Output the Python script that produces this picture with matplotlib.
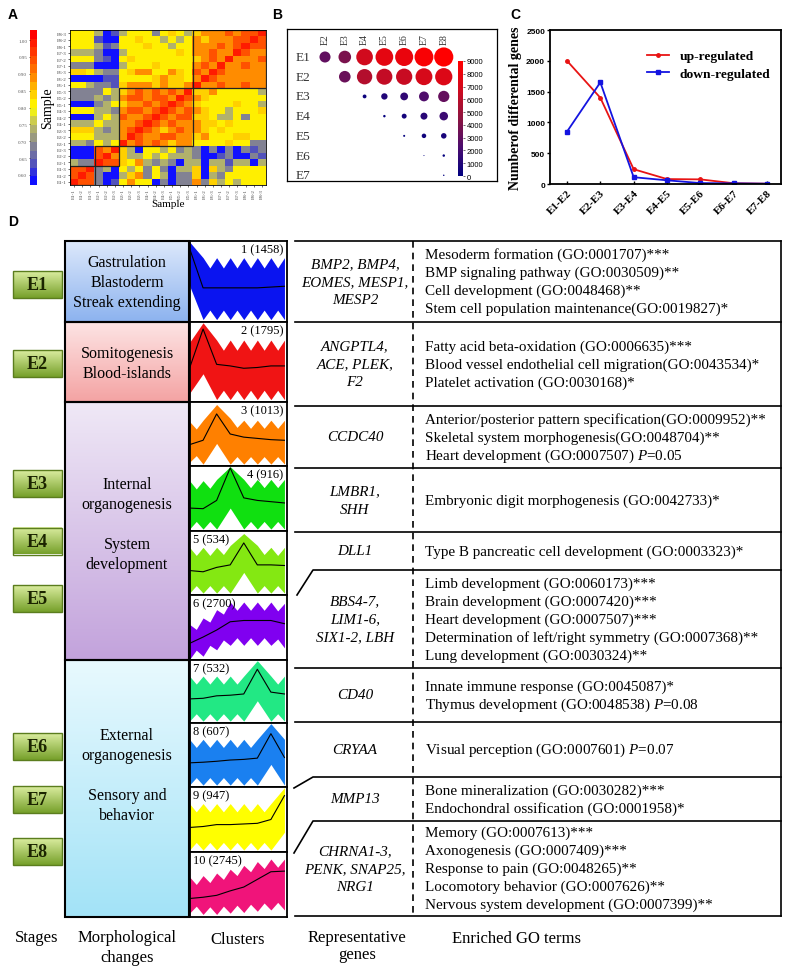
import numpy as np
import matplotlib
matplotlib.use("Agg")
import matplotlib.pyplot as plt
from matplotlib.colors import LinearSegmentedColormap, to_rgb
from matplotlib.patches import Rectangle

plt.rcParams['font.family'] = ['Liberation Serif', 'DejaVu Serif']
plt.rcParams['mathtext.fontset'] = 'custom'
plt.rcParams['mathtext.rm'] = 'Liberation Serif'
plt.rcParams['mathtext.it'] = 'Liberation Serif:italic'

# ---------------- data ----------------
# panel A: sample correlation, coded levels (rows top->bottom E8-3 ... E1-1)
samples = [f"E{s}-{r}" for s in range(1, 9) for r in range(1, 4)]
level_value = {'B': 0.59, 'b': 0.64, 'g': 0.69, 'o': 0.74, 'y': 0.80,
               'Y': 0.85, 'O': 0.90, 'R': 0.95, 'r': 1.00}
corr_rows = [
    "yyy oBb oyy ygy Yyo YOO ORO RRr",
    "yyy bBB yyY yyo yoy OYO OOR RrR",
    "yyy obg yyy Yyy oyy OOO ROR rRR",
    "ooo gBB oyy yyy yYy OOR OOr ROO",
    "yyy gbB yYy yyy yyy YOR OrO OOR",
    "ggg BBB oyy yYy yyy ORO rOO ROO",
    "YYy ogg yYO Oyy OYy ROr ROO OOO",
    "BBB Bbb yyy yYO YYy OrR OOO OOO",
    "yyo ggb YOO OYO YYO rOO ROO ROO",
    "ggg gyo YOR ORO ROr YYO yyy yyo",
    "ggg ogo ORR ORR OrR OYy yyy yyy",
    "BBB goy YOO ROR rRO Yyy yyY yyo",
    "yyy oog ORR ORr ROR OYy yoy yyY",
    "BBB oyo ROO RrR ORR YYy ooy gyy",
    "ooo yoo OOR rRO ROO OYY yYy yyy",
    "YYY ogo ORr ROY ORO OYy Yyy yyy",
    "yyy ooo OrR OOR ROO YOy yyY Yyy",
    "oog yoy rOR ORO YOO yyy yYy ygg",
    "BBB ROr YoB yyo ygo gBg BgB gbg",
    "BBB RrO Yoo yoy ooo gBB bgB Bgb",
    "ogg rRR YyO ogo gBo oBo obo oBo",
    "RRr goB yoy gyg Boo YBY ogy yyy",
    "RrR gBB oYO gyo Bgg YBo gyy yyy",
    "rRR gBb yOy yBg Bgg OgY oyo yyy",
]

# panel B: number of DEGs between stages (row stage vs column stage)
b_rows = ['E1', 'E2', 'E3', 'E4', 'E5', 'E6', 'E7']
b_cols = ['E2', 'E3', 'E4', 'E5', 'E6', 'E7', 'E8']
deg_counts = [
    [3000, 3900, 6800, 7700, 8000, 8700, 9000],
    [None, 3300, 5800, 6300, 6500, 7000, 7300],
    [None, None, 360, 1000, 1500, 2400, 3100],
    [None, None, None, 150, 600, 1200, 1800],
    [None, None, None, None, 100, 500, 750],
    [None, None, None, None, None, 25, 150],
    [None, None, None, None, None, None, 50],
]

# panel C
contrasts = ['E1-E2', 'E2-E3', 'E3-E4', 'E4-E5', 'E5-E6', 'E6-E7', 'E7-E8']
up_regulated = [2000, 1400, 240, 80, 75, 12, 5]
down_regulated = [850, 1650, 110, 60, 15, 10, 5]

# panel D
stages = ['E1', 'E2', 'E3', 'E4', 'E5', 'E6', 'E7', 'E8']
cluster_counts = [1458, 1795, 1013, 916, 534, 2700, 532, 607, 947, 2745]
cluster_colors = ['#0a14f0', '#f01414', '#ff8000', '#10e010', '#84e812',
                  '#8000f0', '#22e884', '#1a80f0', '#ffff00', '#f0147a']
cluster_mean = [
    [0.92, 0.42, 0.42, 0.42, 0.42, 0.42, 0.43, 0.44],
    [0.42, 0.92, 0.47, 0.45, 0.42, 0.43, 0.45, 0.45],
    [0.33, 0.40, 0.82, 0.50, 0.45, 0.43, 0.41, 0.40],
    [0.35, 0.34, 0.47, 0.98, 0.51, 0.47, 0.45, 0.43],
    [0.38, 0.36, 0.43, 0.47, 0.82, 0.47, 0.47, 0.46],
    [0.25, 0.35, 0.46, 0.59, 0.61, 0.61, 0.61, 0.56],
    [0.38, 0.39, 0.43, 0.44, 0.46, 0.86, 0.49, 0.46],
    [0.375, 0.385, 0.40, 0.42, 0.43, 0.45, 0.84, 0.46],
    [0.375, 0.39, 0.42, 0.42, 0.43, 0.44, 0.50, 0.875],
    [0.28, 0.30, 0.33, 0.40, 0.46, 0.58, 0.70, 0.71],
]
cluster_upper = [
    [1.00, 0.80, 0.80, 0.80, 0.80, 0.80, 0.80, 0.80],
    [0.75, 1.00, 0.78, 0.78, 0.78, 0.78, 0.78, 0.78],
    [0.70, 0.72, 0.97, 0.75, 0.72, 0.72, 0.72, 0.72],
    [0.78, 0.78, 0.80, 1.00, 0.80, 0.80, 0.80, 0.80],
    [0.75, 0.75, 0.75, 0.78, 0.97, 0.78, 0.75, 0.75],
    [0.55, 0.65, 0.78, 0.90, 0.90, 0.90, 0.90, 0.88],
    [0.75, 0.75, 0.75, 0.75, 0.75, 1.00, 0.75, 0.75],
    [0.75, 0.75, 0.75, 0.75, 0.75, 0.75, 1.00, 0.75],
    [0.75, 0.75, 0.75, 0.75, 0.75, 0.75, 0.75, 1.00],
    [0.62, 0.64, 0.68, 0.74, 0.80, 0.86, 0.90, 0.90],
]
cluster_lower = [
    [0.45, 0.02, 0.02, 0.02, 0.02, 0.02, 0.02, 0.02],
    [0.10, 0.35, 0.02, 0.02, 0.02, 0.02, 0.02, 0.02],
    [0.05, 0.02, 0.35, 0.02, 0.02, 0.02, 0.02, 0.02],
    [0.02, 0.02, 0.02, 0.35, 0.02, 0.02, 0.02, 0.02],
    [0.02, 0.02, 0.02, 0.02, 0.35, 0.02, 0.02, 0.02],
    [0.00, 0.05, 0.15, 0.22, 0.22, 0.22, 0.22, 0.18],
    [0.02, 0.02, 0.02, 0.02, 0.02, 0.35, 0.02, 0.02],
    [0.02, 0.02, 0.02, 0.02, 0.02, 0.02, 0.35, 0.02],
    [0.02, 0.02, 0.02, 0.02, 0.02, 0.02, 0.02, 0.30],
    [0.05, 0.03, 0.03, 0.05, 0.06, 0.08, 0.10, 0.10],
]
morph_text = [
    ['Gastrulation', 'Blastoderm', 'Streak extending'],
    ['Somitogenesis', 'Blood-islands'],
    ['Internal', 'organogenesis', '', 'System', 'development'],
    ['External', 'organogenesis', '', 'Sensory and', 'behavior'],
]
rep_genes = [
    ['BMP2, BMP4,', 'EOMES, MESP1,', 'MESP2'],
    ['ANGPTL4,', 'ACE, PLEK,', 'F2'],
    ['CCDC40'],
    ['LMBR1,', 'SHH'],
    ['DLL1'],
    ['BBS4-7,', 'LIM1-6,', 'SIX1-2, LBH'],
    ['CD40'],
    ['CRYAA'],
    ['MMP13'],
    ['CHRNA1-3,', 'PENK, SNAP25,', 'NRG1'],
]
go_terms = [
    ['Mesoderm formation (GO:0001707)***',
     'BMP signaling pathway (GO:0030509)**',
     'Cell development (GO:0048468)**',
     'Stem cell population maintenance(GO:0019827)*'],
    ['Fatty acid beta-oxidation (GO:0006635)***',
     'Blood vessel endothelial cell migration(GO:0043534)*',
     'Platelet activation (GO:0030168)*'],
    ['Anterior/posterior pattern specification(GO:0009952)**',
     'Skeletal system morphogenesis(GO:0048704)**',
     'Heart development (GO:0007507) $P$=0.05'],
    ['Embryonic digit morphogenesis (GO:0042733)*'],
    ['Type B pancreatic cell development (GO:0003323)*'],
    ['Limb development (GO:0060173)***',
     'Brain development (GO:0007420)***',
     'Heart development (GO:0007507)***',
     'Determination of left/right symmetry (GO:0007368)**',
     'Lung development (GO:0030324)**'],
    ['Innate immune response (GO:0045087)*',
     'Thymus development (GO:0048538) $P$=0.08'],
    ['Visual perception (GO:0007601) $P$=0.07'],
    ['Bone mineralization (GO:0030282)***',
     'Endochondral ossification (GO:0001958)*'],
    ['Memory (GO:0007613)***',
     'Axonogenesis (GO:0007409)***',
     'Response to pain (GO:0048265)**',
     'Locomotory behavior (GO:0007626)**',
     'Nervous system development (GO:0007399)**'],
]

# ---------------- layout (pixels) ----------------
W, H = 787, 970
fig = plt.figure(figsize=(W / 100, H / 100), dpi=100)


def px_axes(x0, y0, x1, y1):
    return fig.add_axes([x0 / W, 1 - y1 / H, (x1 - x0) / W, (y1 - y0) / H])


ov = px_axes(0, 0, W, H)
ov.axis('off')


def gradient(x0, y0, x1, y1, c_top, c_bot):
    t = np.linspace(0, 1, 64)[:, None, None]
    arr = (1 - t) * np.array(to_rgb(c_top)) + t * np.array(to_rgb(c_bot))
    ov.imshow(arr, extent=(x0, x1, y1, y0), aspect='auto', origin='upper',
              interpolation='bilinear', zorder=1)


sans = 'Liberation Sans'
for lab, x, y in [('A', 8, 15), ('B', 272, 15), ('C', 510, 15), ('D', 8, 222)]:
    ov.text(x, y, lab, fontfamily=sans, fontweight='bold', fontsize=10,
            va='center', ha='left')

# ---------------- panel A ----------------
cmapA = LinearSegmentedColormap.from_list(
    'corr', [(0.0, '#1010ff'), (0.13, '#5a5ab4'), (0.26, '#8c8c8c'),
             (0.39, '#c0c060'), (0.50, '#ffff00'), (0.62, '#ffc000'),
             (0.74, '#ff7800'), (1.0, '#ff0000')], N=18)
M = np.array([[level_value[c] for c in row.replace(' ', '')] for row in corr_rows])
axA = px_axes(70, 31, 266, 186)
imA = axA.imshow(M, cmap=cmapA, vmin=0.57, vmax=1.03, aspect='auto',
                 interpolation='nearest')
for (x0, y0, n) in [(14.5, -0.5, 9), (5.5, 8.5, 9), (2.5, 17.5, 3), (-0.5, 20.5, 3)]:
    axA.add_patch(Rectangle((x0, y0), n, n, fill=False, ec='#222222', lw=0.9))
axA.set_yticks(range(24))
axA.set_yticklabels(samples[::-1], fontsize=3.6, color='#444444')
axA.set_xticks(range(24))
axA.set_xticklabels(samples, fontsize=3.6, rotation=90, color='#444444')
axA.tick_params(length=1.2, width=0.4, pad=1)
axA.set_xlabel('Sample', fontsize=8, labelpad=1)
axA.set_ylabel('Sample', fontsize=10, labelpad=2)
for s in axA.spines.values():
    s.set_linewidth(0.6)
caxA = px_axes(30, 31, 37, 186)
cbA = fig.colorbar(imA, cax=caxA)
cbA.outline.set_visible(False)
caxA.yaxis.set_ticks_position('left')
cbA.set_ticks([0.60, 0.65, 0.70, 0.75, 0.80, 0.85, 0.90, 0.95, 1.00])
cbA.set_ticklabels(['0.60', '0.65', '0.70', '0.75', '0.80', '0.85', '0.90', '0.95', '1.00'])
caxA.tick_params(labelsize=3.6, length=1, width=0.4, pad=1, labelcolor='#555555')

# ---------------- panel B ----------------
cmapB = LinearSegmentedColormap.from_list(
    'deg', ['#000080', '#4b0c6e', '#8c1440', '#d00a1e', '#ff0000'])
axB = px_axes(287, 30, 497, 182)
bx, by, bv = [], [], []
for i, row in enumerate(deg_counts):
    for j, v in enumerate(row):
        if v is not None:
            bx.append(j)
            by.append(i)
            bv.append(v)
bv = np.array(bv)
scB = axB.scatter(bx, by, s=190 * bv / 9000, c=bv, cmap=cmapB, vmin=0, vmax=9000,
                  edgecolors='none')
axB.set_xlim(-1.92, 8.69)
axB.set_ylim(6.29, -1.42)
axB.set_xticks([])
axB.set_yticks([])
for j, lab in enumerate(b_cols):
    axB.text(j, -0.95, lab, rotation=90, ha='center', va='center', fontsize=7,
             color='#333333')
for i, lab in enumerate(b_rows):
    axB.text(-1.1, i, lab, ha='center', va='center', fontsize=9.5, color='#333333')
for s in axB.spines.values():
    s.set_linewidth(0.9)
caxB = px_axes(458, 62, 463, 177)
cbB = fig.colorbar(scB, cax=caxB)
cbB.outline.set_visible(False)
cbB.set_ticks(range(0, 9001, 1000))
caxB.tick_params(labelsize=5.5, length=1.5, width=0.4, pad=1)
for t in caxB.get_yticklabels():
    t.set_fontfamily(sans)

# ---------------- panel C ----------------
axC = px_axes(550, 31, 781, 185)
xs = np.arange(len(contrasts))
axC.plot(xs, up_regulated, color='#e81414', lw=1.3, marker='o', ms=2.5,
         label='up-regulated')
axC.plot(xs, down_regulated, color='#1414e0', lw=1.3, marker='s', ms=2.5,
         label='down-regulated')
axC.set_xlim(-0.51, 6.42)
axC.set_ylim(0, 2500)
axC.set_yticks(range(0, 2501, 500))
axC.set_xticks(xs)
axC.set_xticklabels(contrasts, rotation=45, ha='right', rotation_mode='anchor',
                    fontsize=8, fontweight='bold')
for t in axC.get_yticklabels():
    t.set_fontfamily(sans)
    t.set_fontweight('bold')
axC.tick_params(axis='y', labelsize=6, length=2.5, width=1, pad=1)
axC.tick_params(axis='x', direction='in', length=2, width=1, pad=3)
axC.set_ylabel('Numberof differental genes', fontsize=10, fontweight='bold', labelpad=3)
for s in axC.spines.values():
    s.set_linewidth(1.3)
axC.legend(loc='upper right', bbox_to_anchor=(1.0, 0.94), frameon=False,
           prop={'weight': 'bold', 'size': 9.7},
           handlelength=1.6, borderaxespad=0.4, labelspacing=0.35)

# ---------------- panel D ----------------
stage_centers = [285.5, 364.5, 484.5, 542, 599.5, 747.5, 800.5, 852.5]
for lab, yc in zip(stages, stage_centers):
    gradient(13, yc - 13.5, 62, yc + 13.5, '#dbeda0', '#76a02a')
    ov.add_patch(Rectangle((13, yc - 13.5), 49, 27, fill=False, ec='#5b7d1e',
                           lw=1, zorder=2))
    ov.text(37.5, yc + 0.5, lab, ha='center', va='center', fontsize=13,
            fontweight='bold', color='#1b2400', zorder=3)

morph_spans = [(242, 323), (323, 403), (403, 661), (661, 918)]
morph_cols = [('#dce8fb', '#8db3ef'), ('#fde4e4', '#f4a3a3'),
              ('#efe8f6', '#c3a3dc'), ('#e8f9fe', '#a3e3f7')]
morph_first_line = [263, 354, 485, 736]
for (y0, y1), (ct, cb), lines, yf in zip(morph_spans, morph_cols, morph_text,
                                         morph_first_line):
    gradient(65, y0, 189, y1, ct, cb)
    ov.add_patch(Rectangle((65, y0), 124, y1 - y0, fill=False, ec='black',
                           lw=1.5, zorder=2))
    for k, line in enumerate(lines):
        ov.text(127, yf + 20 * k, line, ha='center', va='center', fontsize=11.5,
                zorder=3)

cl_edges = [242, 323, 403, 467, 532, 596, 661, 724, 788, 853, 918]


def envelope(vals, notch, sign):
    ex, ey = [], []
    for i in range(len(vals)):
        ex.append(i)
        ey.append(vals[i])
        if i < len(vals) - 1:
            mid = (vals[i] + vals[i + 1]) / 2
            if abs(vals[i] - vals[i + 1]) < 0.15:
                mid += sign * notch
            ex.append(i + 0.5)
            ey.append(mid)
    return ex, ey


for k in range(10):
    axc = px_axes(189.5, cl_edges[k], 286.5, cl_edges[k + 1])
    ux, uy = envelope(cluster_upper[k], 0.13, -1)
    lx, ly = envelope(cluster_lower[k], 0.12, +1)
    axc.fill_between(ux, ly, uy, color=cluster_colors[k], lw=0)
    axc.plot(range(8), cluster_mean[k], color='black', lw=0.8)
    axc.set_xlim(0, 7.15)
    axc.set_ylim(-0.01, 1.01)
    axc.set_xticks([])
    axc.set_yticks([])
    for s in axc.spines.values():
        s.set_linewidth(1.3)
    lab = f"{k + 1} ({cluster_counts[k]})"
    if k < 4:
        axc.text(0.97, 0.97, lab, transform=axc.transAxes, ha='right', va='top',
                 fontsize=9)
    else:
        axc.text(0.04, 0.97, lab, transform=axc.transAxes, ha='left', va='top',
                 fontsize=9)

# GO table
row_edges = [242, 323, 407, 469, 533, 571, 669, 723, 778, 822, 917]
for y in [242, 323, 407, 469, 533, 669, 723, 917]:
    ov.plot([295, 781], [y, y], color='black', lw=1.2)
ov.plot([297, 313, 781], [596, 571, 571], color='black', lw=1.2)
ov.plot([294, 313, 781], [789, 778, 778], color='black', lw=1.2)
ov.plot([294, 313, 781], [854, 822, 822], color='black', lw=1.2)
ov.plot([781, 781], [242, 917], color='black', lw=1.2)
ov.plot([413, 413], [242, 917], color='black', lw=1.2, ls=(0, (4, 3)))
for k in range(10):
    ym = (row_edges[k] + row_edges[k + 1]) / 2
    g = rep_genes[k]
    for i, line in enumerate(g):
        ov.text(355, ym + (i - (len(g) - 1) / 2) * 18, line, ha='center',
                va='center', fontsize=10.9, style='italic')
    t = go_terms[k]
    for i, line in enumerate(t):
        ov.text(425, ym + (i - (len(t) - 1) / 2) * 18, line, ha='left',
                va='center', fontsize=10.9)

# bottom captions
ov.text(37, 938, 'Stages', ha='center', va='center', fontsize=12)
ov.text(127, 938, 'Morphological', ha='center', va='center', fontsize=12)
ov.text(127, 958, 'changes', ha='center', va='center', fontsize=12)
ov.text(238, 940, 'Clusters', ha='center', va='center', fontsize=12)
ov.text(357, 938, 'Representative', ha='center', va='center', fontsize=12)
ov.text(357, 955, 'genes', ha='center', va='center', fontsize=12)
ov.text(517, 939, 'Enriched GO terms', ha='center', va='center', fontsize=12)

ov.set_xlim(0, W)
ov.set_ylim(H, 0)

fig.savefig('out.png', dpi=100)
